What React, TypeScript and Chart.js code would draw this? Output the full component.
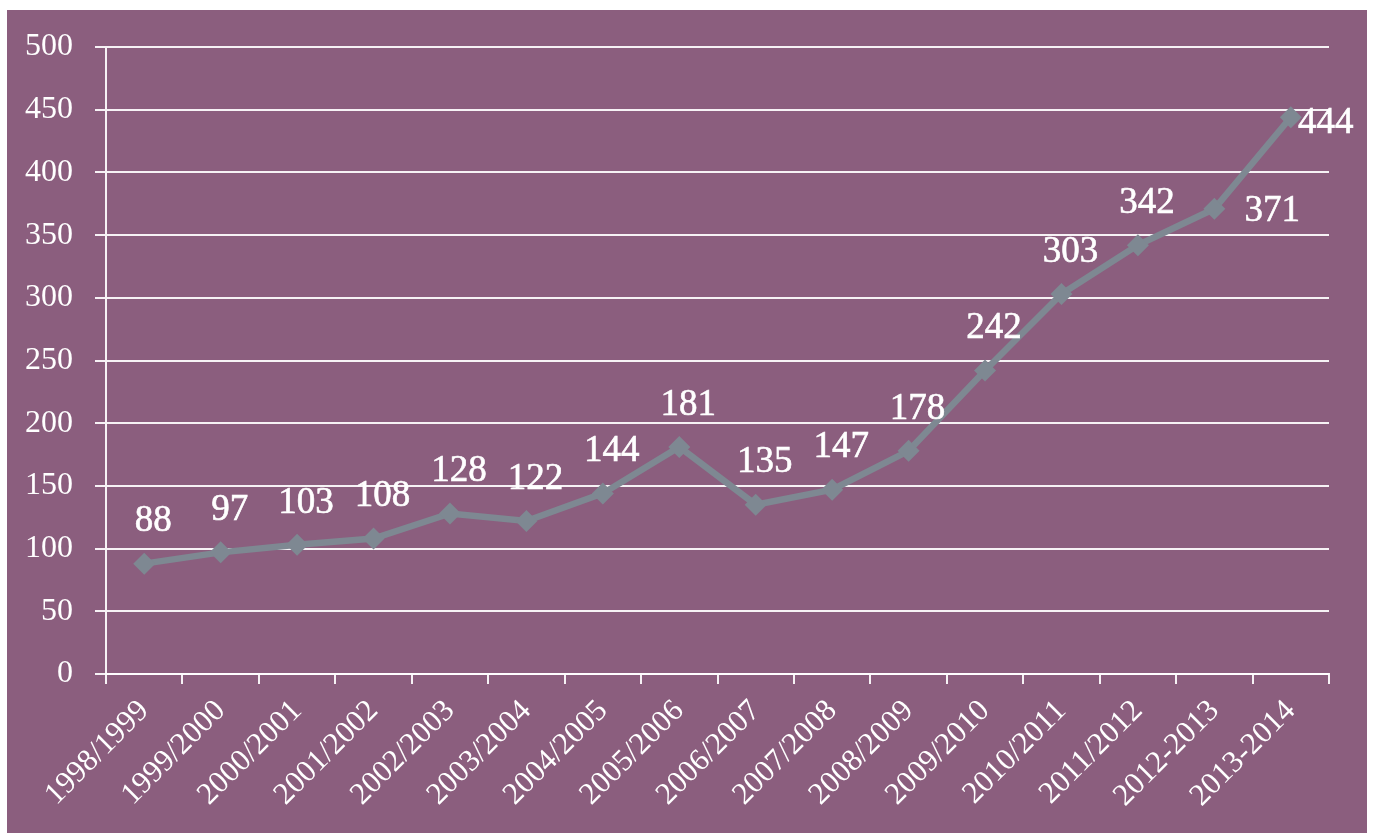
import React, { useEffect, useRef } from "react";
import { Chart, registerables } from "chart.js";

Chart.register(...registerables);

const categories = [
  "1998/1999", "1999/2000", "2000/2001", "2001/2002", "2002/2003", "2003/2004",
  "2004/2005", "2005/2006", "2006/2007", "2007/2008", "2008/2009", "2009/2010",
  "2010/2011", "2011/2012", "2012-2013", "2013-2014",
];
const values = [88, 97, 103, 108, 128, 122, 144, 181, 135, 147, 178, 242, 303, 342, 371, 444];
const yTicks = [0, 50, 100, 150, 200, 250, 300, 350, 400, 450, 500];

const FONT = '"Liberation Serif", "Times New Roman", serif';
const BG = "rgb(139, 94, 126)";
const LINE = "rgb(126, 136, 146)";
const GRID = "rgba(255,255,255,0.92)";

const bgPlugin = {
  id: "bgRect",
  beforeDraw(chart: any) {
    const ctx = chart.ctx;
    ctx.save();
    ctx.fillStyle = "#ffffff";
    ctx.fillRect(0, 0, chart.width, chart.height);
    ctx.fillStyle = BG;
    ctx.fillRect(7, 10, 1360, chart.height - 10);
    ctx.restore();
  },
};

const labelPlugin = {
  id: "valueLabels",
  afterDatasetsDraw(chart: any, _args: any, opts: any) {
    const ctx = chart.ctx;
    const meta = chart.getDatasetMeta(0);
    const data = chart.data.datasets[0].data;
    ctx.save();
    ctx.font = `${opts.size}px ${FONT}`;
    ctx.fillStyle = "#ffffff";
    ctx.strokeStyle = "#ffffff";
    ctx.lineWidth = 0.6;
    ctx.textAlign = "center";
    ctx.textBaseline = "middle";
    meta.data.forEach((pt: any, i: number) => {
      const off = (opts.special && opts.special[i]) || opts.offset;
      ctx.fillText(String(data[i]), pt.x + off[0], pt.y + off[1]);
      ctx.strokeText(String(data[i]), pt.x + off[0], pt.y + off[1]);
    });
    ctx.restore();
  },
};

export default function App() {
  const ref = useRef<HTMLCanvasElement | null>(null);
  useEffect(() => {
    document.body.style.margin = "0";
    if (!ref.current) return;
    const chart = new Chart(ref.current, {
      type: "line",
      data: {
        labels: categories,
        datasets: [
          {
            data: values,
            borderColor: LINE,
            backgroundColor: LINE,
            borderWidth: 6.5,
            pointStyle: "rectRot",
            pointRadius: 11,
            pointBorderWidth: 0,
            pointBackgroundColor: LINE,
            tension: 0,
          },
        ],
      },
      options: {
        responsive: false,
        animation: false,
        layout: { padding: { top: 47, right: 44, left: 0, bottom: 0 } },
        plugins: {
          legend: { display: false },
          tooltip: { enabled: false },
          valueLabels: { size: 37, offset: [9, -42], special: { 14: [58, 3], 15: [35, 6] } },
        } as any,
        scales: {
          x: {
            offset: true,
            afterFit: (s: any) => { s.height = 159; },
            grid: {
              display: true,
              offset: true,
              drawOnChartArea: false,
              drawTicks: true,
              tickLength: 10,
              color: GRID,
              lineWidth: 2,
            },
            border: { display: true, color: GRID, width: 2 },
            ticks: {
              color: "#ffffff",
              font: { family: FONT, size: 31 },
              minRotation: 45,
              maxRotation: 45,
              autoSkip: false,
              padding: 9,
            },
          },
          y: {
            min: 0,
            max: 500,
            afterFit: (s: any) => { s.width = 106; },
            afterBuildTicks: (s: any) => { s.ticks = yTicks.map((v) => ({ value: v })); },
            grid: {
              color: GRID,
              lineWidth: 2,
              drawTicks: true,
              tickLength: 11,
            },
            border: { display: true, color: GRID, width: 2 },
            ticks: {
              color: "#ffffff",
              font: { family: FONT, size: 32 },
              padding: 22,
            },
          },
        },
      },
      plugins: [bgPlugin, labelPlugin],
    });
    return () => chart.destroy();
  }, []);
  return <canvas ref={ref} width={1373} height={833} style={{ display: "block" }} />;
}
